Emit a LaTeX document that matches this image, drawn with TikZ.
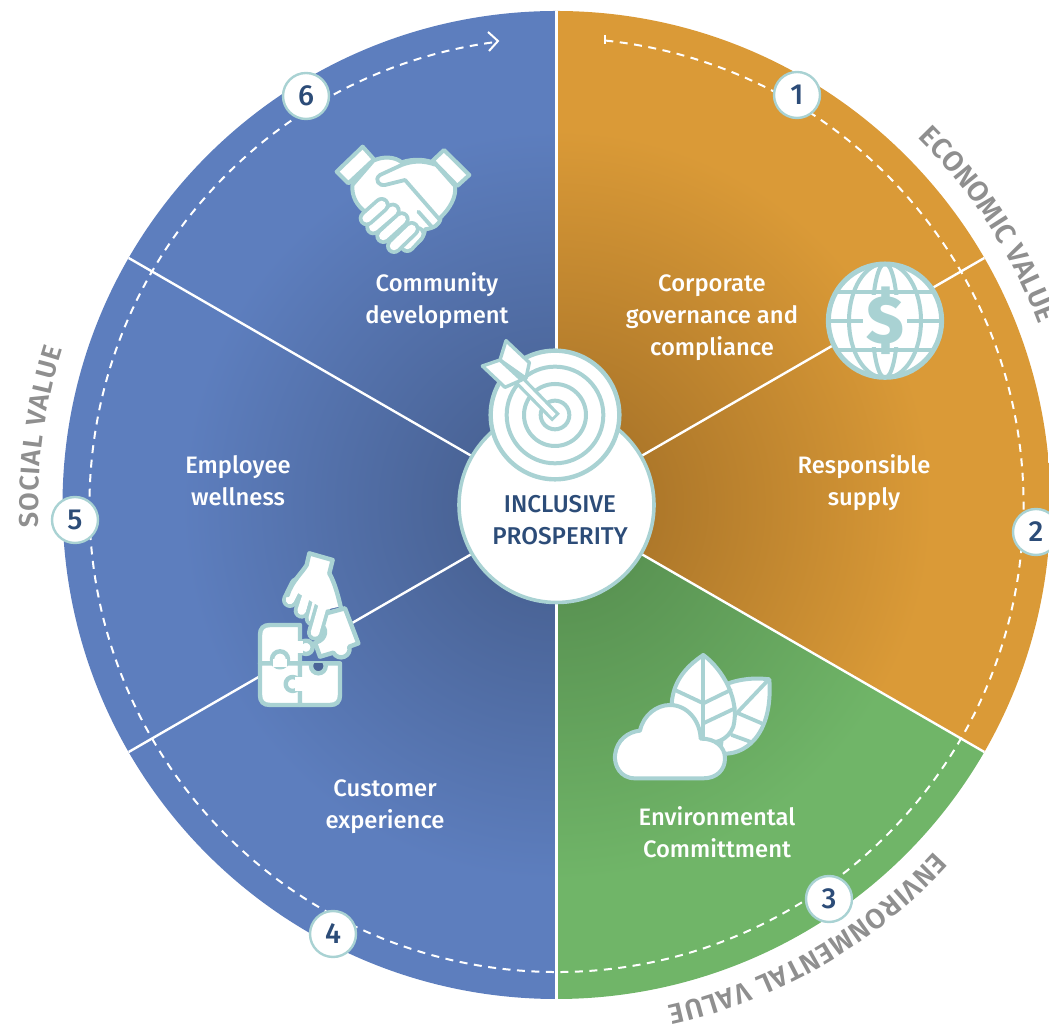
\documentclass[tikz,border=0pt]{standalone}
\usepackage{fontspec}
\setmainfont{Fira Sans}
\newfontfamily\fm{Fira Sans Medium}
\newfontfamily\fsb{Fira Sans SemiBold}
\newfontfamily\fxb{Fira Sans ExtraBold}
\usetikzlibrary{decorations.text}
\definecolor{oD}{HTML}{AE782A}
\definecolor{oL}{HTML}{DA9A37}
\definecolor{gD}{HTML}{5A9453}
\definecolor{gL}{HTML}{70B568}
\definecolor{bD}{HTML}{4A6497}
\definecolor{bL}{HTML}{5D7EBE}
\definecolor{tealc}{HTML}{A9D2D3}
\definecolor{navyc}{HTML}{2C4C78}
\definecolor{labc}{HTML}{8F8F8F}
\pgfdeclareradialshading{orangesh}{\pgfpoint{0bp}{0bp}}{color(0bp)=(oD); color(5bp)=(oD); color(19bp)=(oL); color(100bp)=(oL)}
\pgfdeclareradialshading{greensh}{\pgfpoint{0bp}{0bp}}{color(0bp)=(gD); color(5bp)=(gD); color(19bp)=(gL); color(100bp)=(gL)}
\pgfdeclareradialshading{bluesh}{\pgfpoint{0bp}{0bp}}{color(0bp)=(bD); color(5bp)=(bD); color(19bp)=(bL); color(100bp)=(bL)}
\tikzset{
  icon/.style={draw=tealc,fill=white,line width=4pt,line join=round,line cap=round},
  vein/.style={draw=tealc,line width=3.8pt,line cap=round,line join=round},
  divider/.style={draw=white,line width=2.4pt},
  numdot/.style={circle,draw=tealc,fill=white,line width=2.4pt,minimum size=46pt,inner sep=0pt,text=navyc,font=\fm\fontsize{29}{29}\selectfont},
  lbl/.style={align=center,text=white,font=\fm\fontsize{23.8}{32}\selectfont,inner sep=0pt},
  hublbl/.style={align=center,text=navyc,font=\fm\fontsize{24.3}{32}\selectfont,inner sep=0pt},
}
\newcommand{\capsule}[2]{\draw[tealc,line width=16pt,line cap=round] #1--#2;\draw[white,line width=8.5pt,line cap=round] #1--#2;}
\newcommand{\arclabel}[5]{\path[decorate,decoration={text along path,text={|\fsb\fontsize{#5}{#5}\selectfont\color{labc}|#1},text align={fit to path}}] ([shift={(#2:#4)}]c) arc[start angle=#2,end angle=#3,radius=#4];}
\begin{document}
\begin{tikzpicture}[x=1pt,y=1pt]
\useasboundingbox (0,0) rectangle (1049,1030);
\coordinate (c) at (556.5,525);
% sectors
\begin{scope}\clip (c) -- ++(90:494) arc[start angle=90,end angle=-30,radius=494] -- cycle;
\shade[shading=orangesh] (c) circle (494);\end{scope}
\begin{scope}\clip (c) -- ++(-30:494) arc[start angle=-30,end angle=-90,radius=494] -- cycle;
\shade[shading=greensh] (c) circle (494);\end{scope}
\begin{scope}\clip (c) -- ++(-90:494) arc[start angle=270,end angle=90,radius=494] -- cycle;
\shade[shading=bluesh] (c) circle (494);\end{scope}
% dividers
\foreach \a in {90,30,-30,-90,-150,150}{\draw[divider] (c) -- ++(\a:494);}
% dashed ring
\draw[white,line width=2pt,dash pattern=on 8pt off 6.5pt] ([shift={(84:467)}]c) arc[start angle=84,end angle=-262.6,radius=467];
\coordinate (tickA) at (604.5,995);\coordinate (tickB) at (604.5,986);
\draw[white,line width=2pt] (tickA) -- (tickB);
\coordinate (chA) at (488,998);\coordinate (chB) at (498,989);\coordinate (chC) at (489,979);
\draw[white,line width=2pt,line join=miter] (chA) -- (chB) -- (chC);
% number dots
\node[numdot] (n1) at (797,935) {1};
\node[numdot] (n2) at (1036,498) {2};
\node[numdot] (n3) at (829,131) {3};
\node[numdot] (n4) at (333,96) {4};
\node[numdot] (n5) at (75,510) {5};
\node[numdot] (n6) at (306,934) {6};
% centre
\node[circle,draw=tealc,fill=white,line width=3.6pt,minimum size=195pt,inner sep=0pt] (hub) at (556.5,525) {};
% target (zoom 1 coordinates)
\begin{scope}[shift={(320,900)},yscale=-1,scale=1/3]
\draw[icon,line width=4.4pt] (705,855) circle (193);
\draw[tealc,line width=4pt] (705,855) circle (145);
\draw[tealc,line width=4pt] (705,855) circle (93);
\draw[tealc,line width=4pt] (705,855) circle (43);
\draw[tealc,line width=11pt] (708,863) -- (560,712);
\draw[white,line width=4.5pt] (702,857) -- (555,707);
\draw[icon,line width=3.4pt] (558,632) -- (628,698) -- (618,745) -- (540,690) -- cycle;
\draw[icon,line width=3.4pt] (487,708) -- (540,690) -- (605,750) -- (555,772) -- cycle;
% handshake
\draw[icon] (160,92) .. controls (190,78) and (225,80) .. (245,97) .. controls (280,85) and (320,88) .. (345,100) -- (405,168) .. controls (410,200) and (390,235) .. (362,262) .. controls (360,285) and (340,295) .. (315,298) .. controls (312,325) and (295,340) .. (280,345) -- (255,362) -- (135,245) .. controls (110,225) and (95,200) .. (97,165) -- cycle;
\capsule{(262,345)}{(292,312)}
\capsule{(222,348)}{(275,297)}
\capsule{(190,318)}{(245,268)}
\capsule{(160,292)}{(218,242)}
\capsule{(140,265)}{(185,225)}
\draw[vein] (345,104) .. controls (310,92) and (280,92) .. (245,105) -- (180,135) .. controls (160,150) and (180,170) .. (195,165) -- (255,150) -- (358,268);
\draw[vein] (295,245) -- (335,290);
\draw[icon] (128,50) -- (162,88) -- (85,160) -- (50,125) -- cycle;
\draw[icon] (372,60) -- (448,135) -- (412,168) -- (338,92) -- cycle;
\end{scope}
% globe (zoom 4 coordinates)
\begin{scope}[shift={(810,920)},yscale=-1,scale=1/3]
\draw[icon,line width=5pt] (225,632) circle (170);
\begin{scope}\clip (225,632) circle (170);
\foreach \yy in {545,632,720}{\draw[tealc,line width=4pt] (40,\yy) -- (410,\yy);}
\draw[tealc,line width=4pt] (225,632) ellipse [x radius=108,y radius=172];
\draw[tealc,line width=4pt] (225,632) ellipse [x radius=38,y radius=172];
\end{scope}
\fill[white] (160,555) rectangle (290,710);
\node[text=tealc,inner sep=0pt,font=\fxb\fontsize{68}{68}\selectfont] (dollar) at (225,632) {\$};
\end{scope}
% puzzle (zoom 2 coordinates)
\begin{scope}[shift={(240,490)},yscale=-1,scale=1/3]
\draw[icon,line width=4.4pt] (60,370) -- (60,285) .. controls (60,265) and (70,255) .. (90,255) -- (180,255) -- (180,370) -- cycle;
\draw[icon,line width=4.4pt] (60,370) -- (60,465) .. controls (60,485) and (70,495) .. (90,495) -- (180,495) -- (180,370) -- cycle;
\draw[icon,line width=4.4pt] (180,370) -- (180,495) -- (270,495) .. controls (290,495) and (300,485) .. (300,465) -- (300,370) -- cycle;
% knobs
\draw[icon,line width=4.4pt] (198,322) circle (20);
\fill[white] (168,304) rectangle (190,340);
\draw[icon,line width=4.4pt] (120,358) circle (24);
\fill[white] (98,358) rectangle (142,380);
\draw[icon,line width=4.4pt] (158,432) circle (21);
\fill[white] (166,412) rectangle (192,452);
\begin{scope}\clip (190,372) rectangle (290,420);
\draw[tealc,fill=bD,line width=4.4pt] (235,378) circle (22);
\end{scope}
% tilted piece
\draw[icon,line width=4.4pt] (240,225) -- (315,205) -- (355,310) -- (328,320) .. controls (335,350) and (295,365) .. (280,338) -- (240,350) -- (225,308) .. controls (265,300) and (260,255) .. (240,258) -- cycle;
% hand
\capsule{(150,180)}{(172,135)}
\capsule{(185,212)}{(205,150)}
\capsule{(218,235)}{(235,170)}
\capsule{(225,278)}{(250,190)}
\fill[white] (208,40) -- (278,60) -- (268,100) .. controls (285,130) and (295,170) .. (298,200) -- (255,210) -- (160,150) .. controls (175,110) and (195,90) .. (202,75) -- cycle;
\draw[vein,line width=4.4pt] (143,165) .. controls (155,125) and (185,100) .. (200,75) -- (208,40) -- (278,60) -- (268,100) .. controls (285,130) and (295,170) .. (303,205);
\end{scope}
% leaves and cloud (zoom 3 coordinates)
\begin{scope}[shift={(600,390)},yscale=-1,scale=1/3]
\draw[icon] (508,118) .. controls (460,112) and (420,118) .. (385,130) -- (360,340) .. controls (430,350) and (520,290) .. cycle;
\draw[vein] (500,125) -- (405,225);
\draw[vein] (415,220) -- (485,250);
\draw[vein] (395,285) -- (450,305);
\draw[icon] (310,45) .. controls (250,85) and (220,130) .. (215,190) -- (300,300) .. controls (340,320) and (385,300) .. (400,260) .. controls (420,180) and (370,90) .. cycle;
\draw[vein] (310,45) -- (310,295);
\draw[vein] (225,150) -- (310,190) -- (392,150);
\draw[vein] (310,250) -- (405,205);
\draw[icon] (105,415) .. controls (60,415) and (42,375) .. (45,345) .. controls (50,300) and (85,275) .. (120,272) .. controls (130,225) and (170,195) .. (210,195) .. controls (260,195) and (300,240) .. (302,296) .. controls (345,295) and (375,320) .. (375,355) .. controls (375,390) and (350,415) .. (310,415) -- cycle;
\end{scope}
% labels
\node[hublbl] (tHub) at (560,510) {INCLUSIVE\\PROSPERITY};
\node[lbl] (t1) at (437,729) {Community\\development};
\node[lbl] (t2) at (712,712) {Corporate\\governance and\\compliance};
\node[lbl] (t3) at (864,547) {Responsible\\supply};
\node[lbl] (t4) at (717,198) {Environmental\\Committment};
\node[lbl] (t5) at (385,223) {Customer\\experience};
\node[lbl] (t6) at (238,549) {Employee\\wellness};
\arclabel{ECONOMIC VALUE}{45.5}{20.5}{515}{28.5}
\arclabel{ENVIRONMENTAL VALUE}{-42.5}{-77.5}{513}{28}
\arclabel{SOCIAL VALUE}{182.5}{162.5}{518}{27}
\end{tikzpicture}
\end{document}
